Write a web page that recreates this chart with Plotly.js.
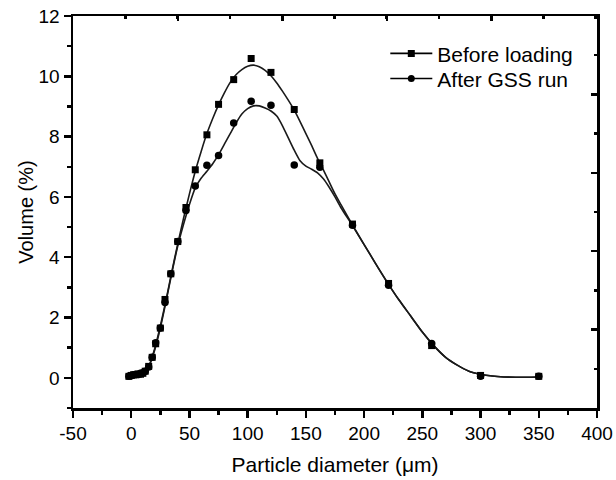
<!DOCTYPE html>
<html>
<head>
<meta charset="utf-8">
<script src="https://cdn.plot.ly/plotly-3.0.1.min.js"></script>
<style>html,body{margin:0;padding:0;background:#fff;}#chart{width:616px;height:480px;}</style>
</head>
<body>
<div id="chart"></div>
<script>
// Measured points (particle diameter, µm)
const diameterPts = [-2, 0, 2, 4, 6, 8, 10, 12, 15, 18, 21, 25, 29, 34, 40, 47, 55, 65, 75, 88, 103, 120, 140, 162, 190, 221, 258, 300, 350];
const beforePts = [0.05, 0.08, 0.1, 0.1, 0.12, 0.12, 0.15, 0.22, 0.38, 0.68, 1.13, 1.65, 2.6, 3.45, 4.52, 5.65, 6.9, 8.06, 9.07, 9.89, 10.59, 10.13, 8.9, 7.13, 5.1, 3.13, 1.07, 0.08, 0.05];
const afterPts = [0.05, 0.08, 0.1, 0.12, 0.12, 0.15, 0.17, 0.22, 0.36, 0.68, 1.16, 1.65, 2.5, 3.45, 4.52, 5.55, 6.36, 7.05, 7.37, 8.45, 9.17, 9.04, 7.06, 6.98, 5.06, 3.07, 1.14, 0.05, 0.05];

// Smoothed fit curves
const diameterCurve = [0, 5, 10, 15, 20, 25, 30, 35, 40, 45, 50, 55, 60, 65, 70, 75, 80, 85, 90, 95, 100, 105, 110, 115, 120, 125, 130, 135, 140, 145, 150, 155, 160, 165, 170, 175, 180, 190, 200, 210, 220, 230, 240, 250, 260, 270, 280, 290, 300, 310, 320, 330, 340, 350];
const beforeCurve = [0.05, 0.08, 0.15, 0.38, 0.95, 1.72, 2.6, 3.55, 4.45, 5.3, 6.1, 6.85, 7.5, 8.1, 8.6, 9.05, 9.45, 9.8, 10.05, 10.22, 10.33, 10.37, 10.32, 10.2, 10.02, 9.78, 9.5, 9.2, 8.88, 8.5, 8.1, 7.7, 7.28, 6.9, 6.5, 6.1, 5.75, 5.07, 4.42, 3.78, 3.16, 2.58, 2.05, 1.52, 1.06, 0.68, 0.42, 0.22, 0.12, 0.06, 0.03, 0.02, 0.02, 0.03];
const afterCurve = [0.05, 0.08, 0.15, 0.37, 0.9, 1.65, 2.55, 3.5, 4.38, 5.1, 5.75, 6.3, 6.62, 6.85, 7.1, 7.4, 7.75, 8.1, 8.45, 8.75, 8.93, 9.02, 9.02, 8.95, 8.85, 8.68, 8.35, 7.95, 7.55, 7.2, 7.02, 6.92, 6.8, 6.6, 6.32, 6.0, 5.65, 5.05, 4.42, 3.78, 3.16, 2.58, 2.05, 1.52, 1.06, 0.68, 0.42, 0.22, 0.12, 0.06, 0.03, 0.02, 0.02, 0.03];

const seriesNames = ["Before loading", "After GSS run"];
const xTickVals = [-50, 0, 50, 100, 150, 200, 250, 300, 350, 400];
const xTickText = ["-50", "0", "50", "100", "150", "200", "250", "300", "350", "400"];
const yTickVals = [0, 2, 4, 6, 8, 10, 12];
const yTickText = ["0", "2", "4", "6", "8", "10", "12"];
const xTitle = "Particle diameter (μm)";
const yTitle = "Volume (%)";

const FONT = "Liberation Sans, Arial, Helvetica, sans-serif";
const lineStyle = {color: "#1a1a1a", width: 1.6, shape: "spline", smoothing: 0.6};

const traces = [
  {x: diameterCurve, y: beforeCurve, mode: "lines", line: lineStyle, showlegend: false, hoverinfo: "skip"},
  {x: diameterCurve, y: afterCurve, mode: "lines", line: lineStyle, showlegend: false, hoverinfo: "skip"},
  {x: diameterPts, y: beforePts, mode: "markers", marker: {symbol: "square", size: 7, color: "#000"}, showlegend: false},
  {x: diameterPts, y: afterPts, mode: "markers", marker: {symbol: "circle", size: 7.5, color: "#000"}, showlegend: false},
  {x: [null], y: [null], name: seriesNames[0], legend: "legend", mode: "lines+markers", line: {color: "#000", width: 1.6}, marker: {symbol: "square", size: 7, color: "#000"}},
  {x: [null], y: [null], name: seriesNames[1], legend: "legend2", mode: "lines+markers", line: {color: "#000", width: 1.6}, marker: {symbol: "circle", size: 7, color: "#000"}},
  {x: [null], y: [null], xaxis: "x2", yaxis: "y2", showlegend: false, hoverinfo: "skip", mode: "markers"}
];

const legendBase = {xanchor: "left", yanchor: "top", bgcolor: "rgba(0,0,0,0)",
                    font: {size: 21, family: FONT}, itemwidth: 42};

const layout = {
  width: 616, height: 480,
  margin: {l: 73, r: 19, t: 16, b: 72},
  paper_bgcolor: "#fff", plot_bgcolor: "#fff",
  font: {family: FONT, color: "#000", size: 19},
  showlegend: true,
  legend: Object.assign({x: 0.596, y: 0.956}, legendBase),
  legend2: Object.assign({x: 0.596, y: 0.892}, legendBase),
  xaxis: {
    range: [-50, 400], tickmode: "array", tickvals: xTickVals, ticktext: xTickText,
    ticks: "outside", ticklen: 7, tickwidth: 2.5, tickcolor: "#000",
    showline: true, linewidth: 2.5, linecolor: "#000", showgrid: false, zeroline: false,
    minor: {dtick: 25, tick0: 0, ticks: "outside", ticklen: 4, tickwidth: 2.5, tickcolor: "#000", showgrid: false},
    tickfont: {size: 19, family: FONT},
    title: {text: xTitle, font: {size: 21, family: FONT}, standoff: 14}
  },
  yaxis: {
    range: [-1, 12], tickmode: "array", tickvals: yTickVals, ticktext: yTickText,
    ticks: "outside", ticklen: 7, tickwidth: 2.5, tickcolor: "#000",
    showline: true, linewidth: 2.5, linecolor: "#000", showgrid: false, zeroline: false,
    minor: {dtick: 1, tick0: 0, ticks: "outside", ticklen: 4, tickwidth: 2.5, tickcolor: "#000", showgrid: false},
    tickfont: {size: 19, family: FONT},
    title: {text: yTitle, font: {size: 20, family: FONT}, standoff: 0}
  },
  xaxis2: {
    overlaying: "x", side: "top", anchor: "y2", range: [0, 523.4], tick0: 105, dtick: 104.4,
    ticks: "inside", ticklen: 5, tickwidth: 2.5, tickcolor: "#000", showticklabels: false,
    showline: true, linewidth: 2.5, linecolor: "#000", showgrid: false, zeroline: false,
    minor: {dtick: 52.2, ticks: "inside", ticklen: 3, tickwidth: 2.5, tickcolor: "#000", showgrid: false}
  },
  yaxis2: {
    overlaying: "y", side: "right", anchor: "x2", range: [0, 5], tick0: 0, dtick: 1,
    ticks: "inside", ticklen: 6, tickwidth: 2.5, tickcolor: "#000", showticklabels: false,
    showline: true, linewidth: 2.5, linecolor: "#000", showgrid: false, zeroline: false,
    minor: {dtick: 0.5, ticks: "inside", ticklen: 3, tickwidth: 2.5, tickcolor: "#000", showgrid: false}
  }
};

Plotly.newPlot("chart", traces, layout, {staticPlot: true, displayModeBar: false});
</script>
</body>
</html>
